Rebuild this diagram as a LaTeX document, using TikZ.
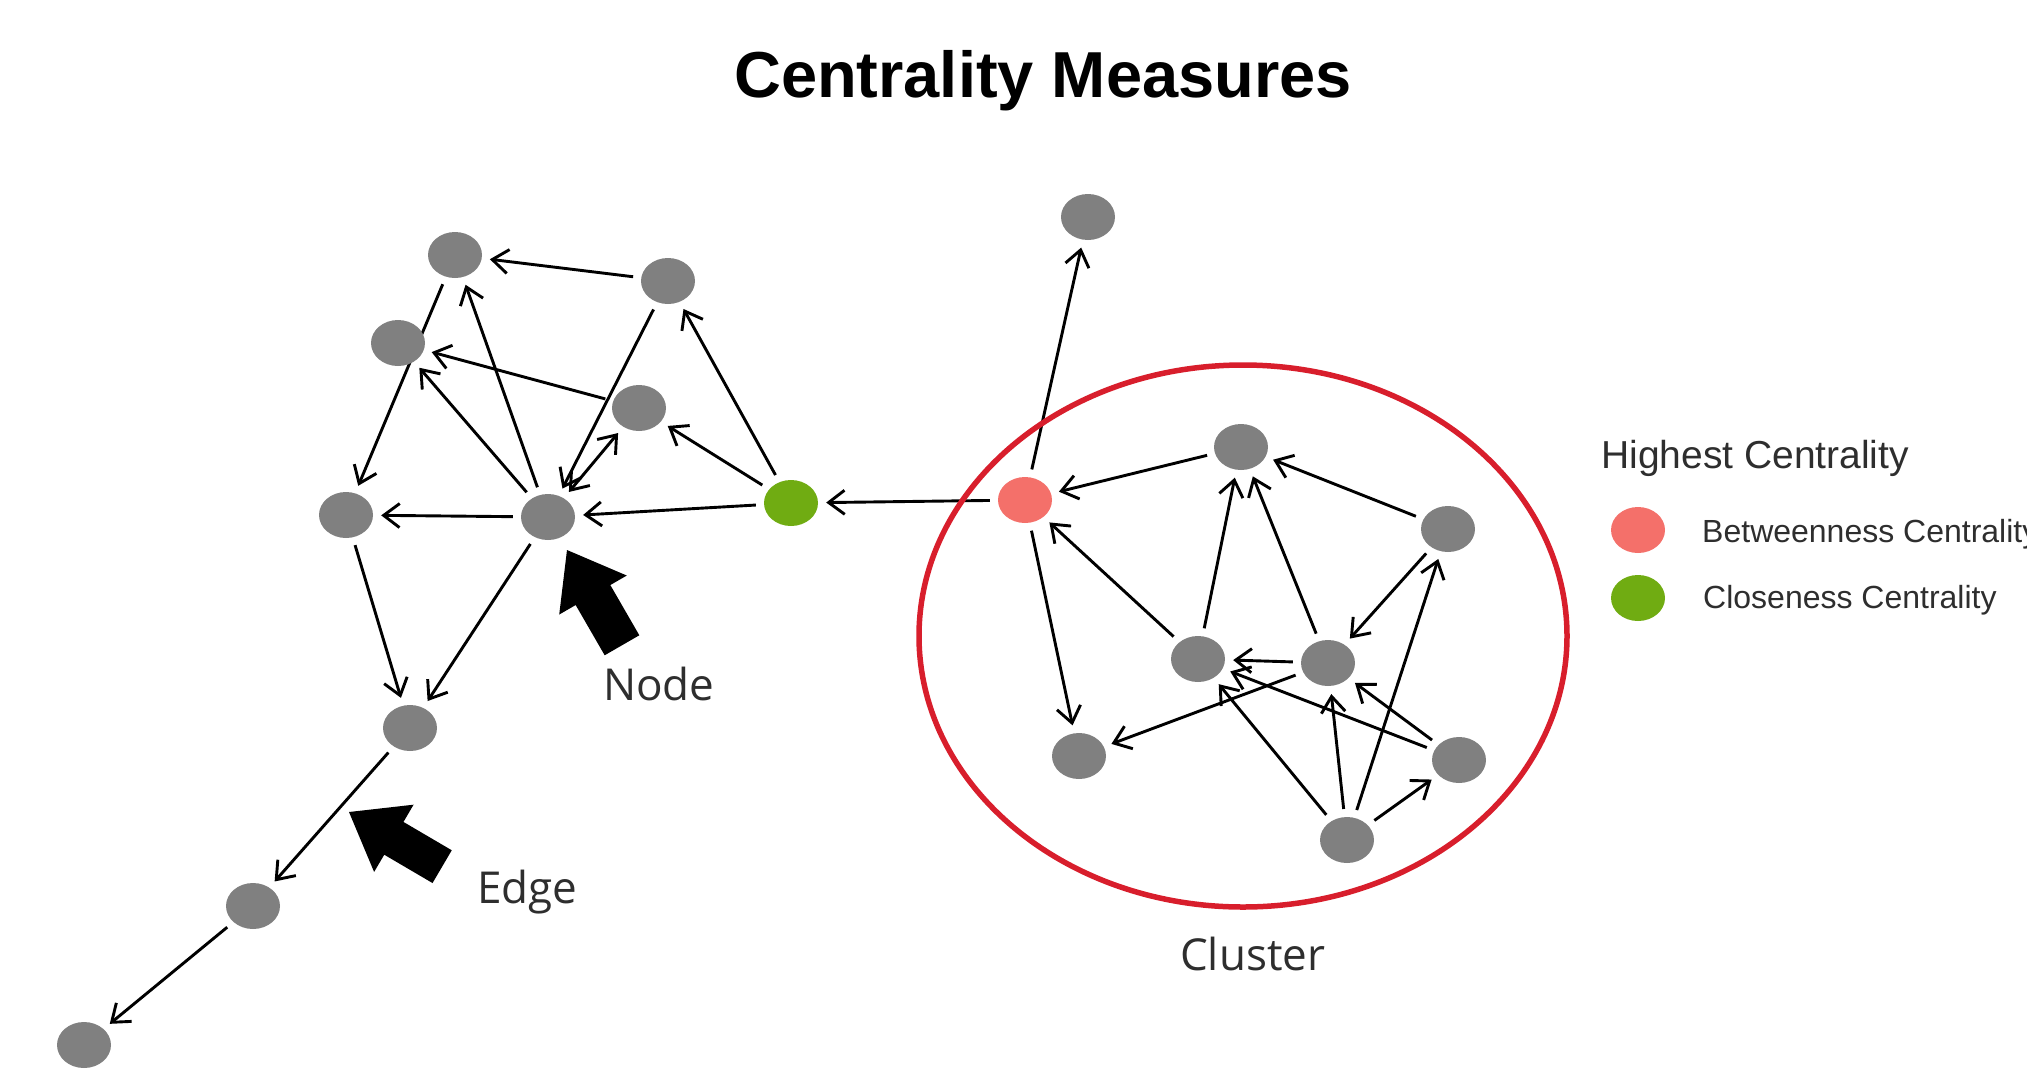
\documentclass[tikz,border=0pt]{standalone}
\usepackage{fontspec}
\setmainfont{Liberation Sans}
\newfontfamily\labfont{Open Sans}
\usetikzlibrary{arrows.meta,shapes.geometric}
\definecolor{nodegray}{HTML}{808080}
\definecolor{betw}{HTML}{F4706A}
\definecolor{clos}{HTML}{70AC12}
\definecolor{clusterred}{HTML}{D81E2C}
\definecolor{labgray}{HTML}{2E2E2E}
\definecolor{leggray}{HTML}{2E2E2E}
\pgfdeclarelayer{bg}
\pgfsetlayers{bg,main}
\begin{document}
\begin{tikzpicture}[x=1pt,y=-1pt,
  vtx/.style={ellipse, fill=nodegray, minimum width=54pt, minimum height=46pt, inner sep=0pt},
  bnode/.style={vtx, fill=betw},
  cnode/.style={vtx, fill=clos},
  barb/.tip={Straight Barb[length=16pt,width=24pt,line width=2.9pt]},
  edge/.style={line width=2.9pt, -barb, shorten >=8pt, shorten <=8pt},
  dedge/.style={line width=2.9pt, barb-barb, shorten >=8pt, shorten <=8pt},
  lab/.style={font=\labfont\fontsize{44}{50}\selectfont, text=labgray, anchor=base west, inner sep=0pt},
  legtxt/.style={font=\fontsize{32}{36}\selectfont, text=leggray, anchor=base west, inner sep=0pt},
  bigarrow/.style={fill=black}
]
\useasboundingbox (0,0) rectangle (2027,1072);

% title
\node (title) [anchor=base, inner sep=0pt, font=\bfseries\fontsize{65}{72}\selectfont] at (1043,97) {Centrality Measures};

% cluster outline
\node (cluster) [ellipse, draw=clusterred, line width=5.5pt, minimum width=648pt, minimum height=542pt, inner sep=0pt] at (1243,636) {};

% left group
\node (A) [vtx] at (455,255) {};
\node (B) [vtx] at (668,281) {};
\node (C) [vtx] at (398,343) {};
\node (D) [vtx] at (639,408) {};
\node (E) [vtx] at (346,515) {};
\node (F) [vtx] at (548,517) {};
\node (G) [cnode] at (791,503) {};
\node (H) [vtx] at (410,728) {};
\node (I) [vtx] at (253,906) {};
\node (J) [vtx] at (84,1045) {};
% right group
\node (K) [vtx] at (1088,217) {};
\node (R) [bnode] at (1025,500) {};
\node (L) [vtx] at (1241,447) {};
\node (M) [vtx] at (1448,529) {};
\node (N) [vtx] at (1198,659) {};
\node (O) [vtx] at (1328,663) {};
\node (P) [vtx] at (1079,756) {};
\node (Q) [vtx] at (1459,760) {};
\node (S) [vtx] at (1347,840) {};

\begin{pgfonlayer}{bg}
\draw[edge] (B) -- (A);
\draw[edge] (A) -- (E);
\draw[edge] (F) -- (A);
\draw[edge] (F) -- (C);
\draw[edge] (D) -- (C);
\draw[edge] (B) -- (F);
\draw[dedge] (F) -- (D);
\draw[edge] (G) -- (B);
\draw[edge] (G) -- (D);
\draw[edge] (G) -- (F);
\draw[edge] (F) -- (E);
\draw[edge] (E) -- (H);
\draw[edge] (F) -- (H);
\draw[edge] (H) -- (I);
\draw[edge] (I) -- (J);
\draw[edge] (R) -- (G);
\draw[edge] (R) -- (K);
\draw[edge] (L) -- (R);
\draw[edge] (M) -- (L);
\draw[edge] (N) -- (L);
\draw[edge] (O) -- (L);
\draw[edge] (N) -- (R);
\draw[edge] (R) -- (P);
\draw[edge] (M) -- (O);
\draw[edge] (S) -- (M);
\draw[edge] (O) -- (N);
\draw[edge] (O) -- (P);
\draw[edge] (Q) -- (N);
\draw[edge] (Q) -- (O);
\draw[edge] (S) -- (N);
\draw[edge] (S) -- (O);
\draw[edge] (S) -- (Q);
\end{pgfonlayer}

% big pointer arrows
\begin{scope}[shift={(567,550)}, rotate=120]
\fill[bigarrow] (0,0) -- (-52,39) -- (-52,20) -- (-110,20) -- (-110,-20) -- (-52,-20) -- (-52,-39) -- cycle;
\end{scope}
\begin{scope}[shift={(349,812)}, rotate=149.6]
\fill[bigarrow] (0,0) -- (-52,39) -- (-52,19) -- (-108,19) -- (-108,-19) -- (-52,-19) -- (-52,-39) -- cycle;
\end{scope}

% labels
\node (nodelab) [lab] at (603,700) {Node};
\node (edgelab) [lab] at (477,903) {Edge};
\node (clusterlab) [lab] at (1180,970) {Cluster};

% legend
\node (leghead) [anchor=base west, inner sep=0pt, text=leggray, font=\fontsize{39}{44}\selectfont] at (1601,468) {Highest Centrality};
\node (legB) [bnode] at (1638,530) {};
\node (legC) [cnode] at (1638,598) {};
\node (legBt) [legtxt] at (1702,542) {Betweenness Centrality};
\node (legCt) [legtxt] at (1703,608) {Closeness Centrality};
\end{tikzpicture}
\end{document}
